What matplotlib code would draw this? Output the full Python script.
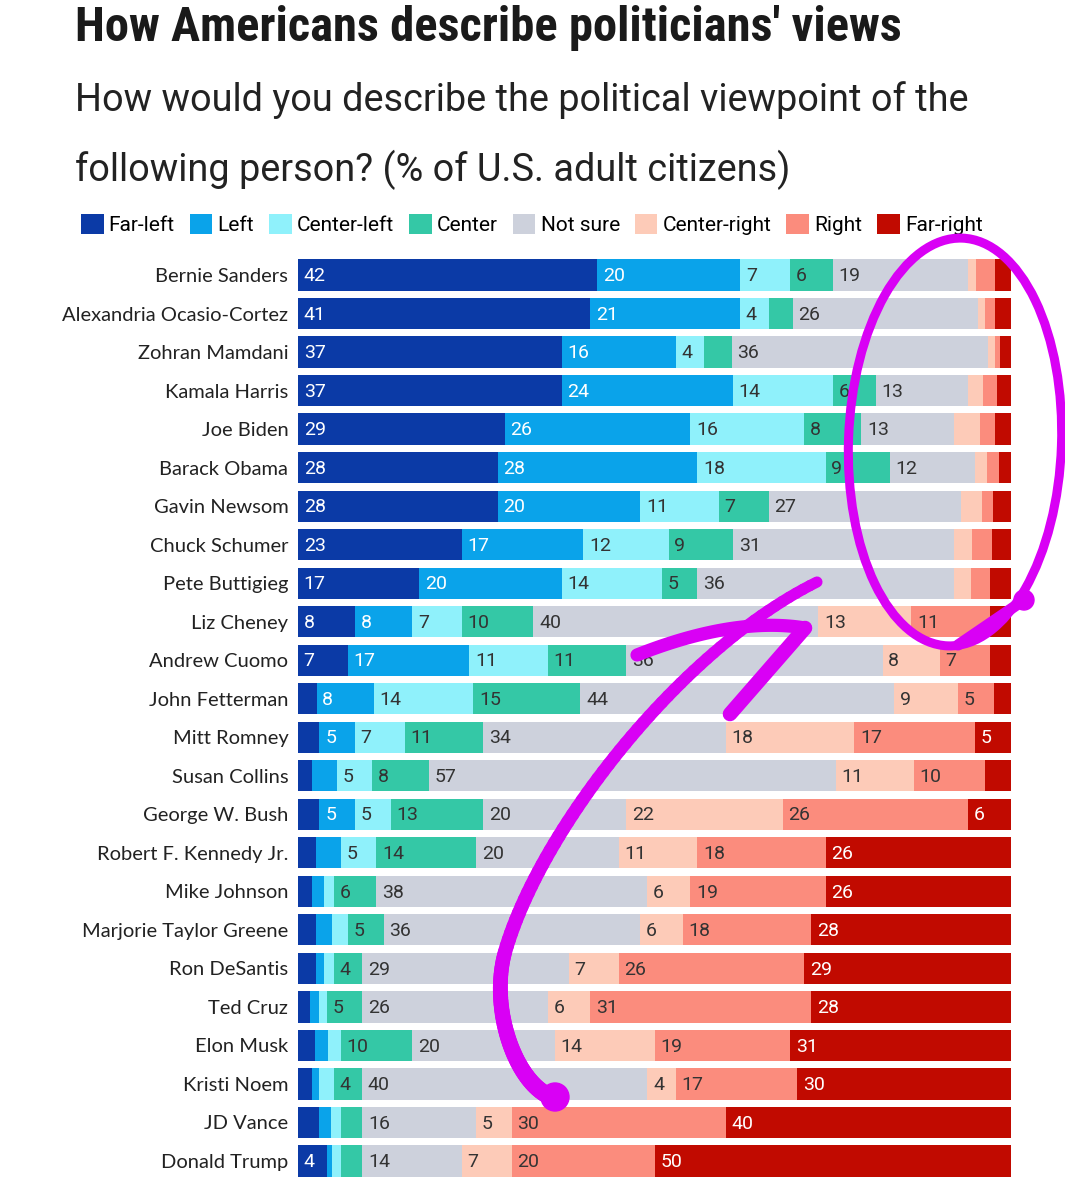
import numpy as np
import matplotlib
matplotlib.use("Agg")
import matplotlib.pyplot as plt
from matplotlib import font_manager
from matplotlib.patches import Ellipse, Circle
from matplotlib.collections import LineCollection

# data (% of U.S. adult citizens)
names = ["Bernie Sanders", "Alexandria Ocasio-Cortez", "Zohran Mamdani", "Kamala Harris",
         "Joe Biden", "Barack Obama", "Gavin Newsom", "Chuck Schumer", "Pete Buttigieg",
         "Liz Cheney", "Andrew Cuomo", "John Fetterman", "Mitt Romney", "Susan Collins",
         "George W. Bush", "Robert F. Kennedy Jr.", "Mike Johnson", "Marjorie Taylor Greene",
         "Ron DeSantis", "Ted Cruz", "Elon Musk", "Kristi Noem", "JD Vance", "Donald Trump"]

far_left = [42, 41, 37, 37, 29, 28, 28, 23, 17, 8, 7, 2.6, 3, 2, 3, 2.5, 2, 2.5, 2.5, 1.7, 2.4, 2, 2.9, 4]
left = [20, 21, 16, 24, 26, 28, 20, 17, 20, 8, 17, 8, 5, 3.4, 5, 3.5, 1.7, 2.2, 1.2, 1.3, 1.8, 1, 1.7, 0.7]
center_left = [7, 4, 4, 14, 16, 18, 11, 12, 14, 7, 11, 14, 7, 5, 5, 5, 1.3, 2.3, 1.3, 1.0, 1.8, 2, 1.5, 1.3]
center = [6, 3.4, 3.8, 6, 8, 9, 7, 9, 5, 10, 11, 15, 11, 8, 13, 14, 6, 5, 4, 5, 10, 4, 2.9, 3]
not_sure = [19, 26, 36, 13, 13, 12, 27, 31, 36, 40, 36, 44, 34, 57, 20, 20, 38, 36, 29, 26, 20, 40, 16, 14]
center_right = [1.1, 1.0, 1.0, 2.1, 3.6, 1.7, 3.0, 2.6, 2.4, 13, 8, 9, 18, 11, 22, 11, 6, 6, 7, 6, 14, 4, 5, 7]
right = [2.7, 1.3, 0.7, 1.9, 2.2, 1.6, 1.5, 2.7, 2.7, 11, 7, 5, 17, 10, 26, 18, 19, 18, 26, 31, 19, 17, 30, 20]
far_right = [2.2, 2.3, 1.5, 2.0, 2.2, 1.7, 2.5, 2.7, 2.9, 3, 3, 2.4, 5, 3.6, 6, 26, 26, 28, 29, 28, 31, 30, 40, 50]

series = ["Far-left", "Left", "Center-left", "Center", "Not sure", "Center-right", "Right", "Far-right"]
colors = ["#0b3aa6", "#0aa3ea", "#8ff1fb", "#34c8a6", "#cdd1dc", "#fdcbb8", "#fb8c7d", "#c10a00"]
text_colors = ["white", "white", "#333333", "#333333", "#333333", "#333333", "#333333", "white"]

available = {f.name for f in font_manager.fontManager.ttflist}
cond = "Roboto Condensed" if "Roboto Condensed" in available else "Roboto"
label_font = "Lato" if "Lato" in available else "DejaVu Sans"

W, H = 1065, 1200
fig = plt.figure(figsize=(W / 100, H / 100), dpi=100)

# bar area in pixels: x 298..1011, rows centred 275..1161
row_px = (1161 - 275) / 23
top_px = 275 - row_px / 2
bot_px = 1161 + row_px / 2
ax = fig.add_axes([298 / W, 1 - bot_px / H, 713 / W, (bot_px - top_px) / H])

data = [far_left, left, center_left, center, not_sure, center_right, right, far_right]
y = np.arange(len(names))
lefts = np.zeros(len(names))
for vals, col, tcol, lab in zip(data, colors, text_colors, series):
    vals = np.array(vals, dtype=float)
    ax.barh(y, vals, left=lefts, height=0.81, color=col, linewidth=0, label=lab)
    for yi, (l, v) in enumerate(zip(lefts, vals)):
        if v >= 4:
            ax.text(l + 0.8, yi + 0.03, f"{v:g}", va="center", ha="left", color=tcol,
                    fontsize=14, family="Roboto")
    lefts += vals

ax.set_xlim(0, 100)
ax.set_ylim(len(names) - 0.5, -0.5)
ax.set_yticks(y)
ax.set_yticklabels(names, fontsize=14.5, family=label_font, color="#222222")
ax.tick_params(axis="y", length=0, pad=7)
ax.set_xticks([])
for s in ax.spines.values():
    s.set_visible(False)

# legend
handles, labels = ax.get_legend_handles_labels()
fig.legend(handles, labels, loc="upper left", bbox_to_anchor=(81 / W, 1 - 214 / H),
           ncol=8, frameon=False, prop={"family": "Roboto", "size": 15},
           handlelength=1.08, handleheight=1.12, handletextpad=0.25,
           columnspacing=0.72, borderpad=0, borderaxespad=0)

# title and subtitle, sized to the widths in the reference
renderer = fig.canvas.get_renderer()
def fit(t, target):
    w = t.get_window_extent(renderer).width
    t.set_fontsize(t.get_fontsize() * target / w)

title = fig.text(75 / W, 1 - 41 / H, "How Americans describe politicians' views",
                 fontsize=30, weight="bold", family=cond, color="#1a1a1a", va="baseline")
fit(title, 827)
sub1 = fig.text(75 / W, 1 - 111 / H, "How would you describe the political viewpoint of the",
                fontsize=26, family="Roboto", color="#222222", va="baseline")
fit(sub1, 895)
fig.text(75 / W, 1 - 181 / H, "following person? (% of U.S. adult citizens)",
         fontsize=sub1.get_fontsize(), family="Roboto", color="#222222", va="baseline")

# hand-drawn magenta markup on top
mag = "#d900f5"
ov = fig.add_axes([0, 0, 1, 1], facecolor="none", zorder=10)
ov.set_xlim(0, W)
ov.set_ylim(H, 0)
ov.axis("off")
ov.add_patch(Ellipse((955, 442), 213, 408, angle=2, fill=False, edgecolor=mag, linewidth=6.5))
ov.plot([958, 1027], [645, 598], color=mag, lw=8, solid_capstyle="round")
ov.add_patch(Circle((1024, 600), 10, color=mag))

def bezier(p0, p1, p2, p3, n=60):
    t = np.linspace(0, 1, n)[:, None]
    p0, p1, p2, p3 = map(np.array, (p0, p1, p2, p3))
    return (1 - t) ** 3 * p0 + 3 * (1 - t) ** 2 * t * p1 + 3 * (1 - t) * t ** 2 * p2 + t ** 3 * p3

curve = np.vstack([bezier((560, 1099), (520, 1095), (488, 1013), (505, 952)),
                   bezier((505, 952), (540, 830), (680, 650), (817, 582))[1:]])
segs = np.stack([curve[:-1], curve[1:]], axis=1)
widths = np.linspace(12.5, 8, len(segs))
ov.add_collection(LineCollection(segs, linewidths=widths, colors=mag, capstyle="round"))
ov.add_patch(Circle((555, 1097), 14, color=mag))
head_a = bezier((637, 655), (680, 638), (745, 618), (805, 628))
ov.plot(head_a[:, 0], head_a[:, 1], color=mag, lw=9.5, solid_capstyle="round")
ov.plot([730, 805], [714, 628], color=mag, lw=10.5, solid_capstyle="round")

fig.savefig("out.png", dpi=100)
